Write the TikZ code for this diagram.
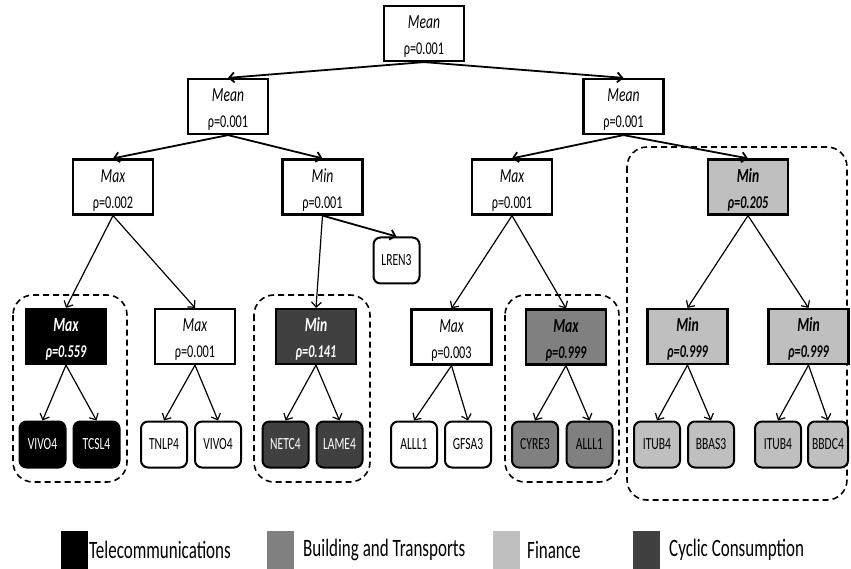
\documentclass[tikz,border=0pt]{standalone}
\usepackage{fontspec}
\setmainfont{Carlito}[FakeStretch=0.68]
\usetikzlibrary{arrows.meta}
\definecolor{bldg}{HTML}{808080}
\definecolor{fin}{HTML}{BFBFBF}
\definecolor{cyc}{HTML}{404040}
\newcommand{\nd}[2]{\rule{0pt}{19pt}{\fontsize{20}{26}\selectfont\itshape #1}\\#2}
\newcommand{\ndb}[2]{\rule{0pt}{19pt}{\fontsize{20}{26}\selectfont\bfseries\itshape #1}\\{\bfseries\itshape #2}}
\tikzset{
  inner/.style={draw, line width=2.2pt, minimum width=80pt, minimum height=55pt, inner sep=0pt, align=center, font=\fontsize{18}{26}\selectfont},
  leaf/.style={draw, line width=2pt, rounded corners=7pt, minimum width=46pt, minimum height=46pt, inner sep=0pt, font=\fontsize{17}{17}\selectfont},
  tip/.style={-{Straight Barb[length=5pt,width=10pt]}},
  thk/.style={tip, line width=1.8pt},
  thn/.style={tip, line width=1.2pt},
  grp/.style={draw, line width=1.6pt, dash pattern=on 6pt off 4pt, rounded corners=20pt},
  lsq/.style={minimum width=27pt, minimum height=38pt, inner sep=0pt},
  ltx/.style={anchor=west, inner sep=0pt, font=\fontsize{25}{25}\selectfont},
}
\begin{document}
\begin{tikzpicture}[x=1pt,y=-1pt]
\useasboundingbox (0,0) rectangle (851,569);
% groups
\draw[grp] (13,295) rectangle (127,482);
\draw[grp] (254,295) rectangle (370,482);
\draw[grp] (505,295) rectangle (619,482);
\draw[grp] (627,147) rectangle (847,500);
% internal nodes
\node[inner] (root) at (424,33.5) {\nd{Mean}{ρ=0.001}};
\node[inner] (m1L) at (228,106.5) {\nd{Mean}{ρ=0.001}};
\node[inner] (m1R) at (623.5,106.5) {\nd{Mean}{ρ=0.001}};
\node[inner] (maxA) at (113,187) {\nd{Max}{ρ=0.002}};
\node[inner] (minA) at (322.5,187) {\nd{Min}{ρ=0.001}};
\node[inner] (maxB) at (512,187) {\nd{Max}{ρ=0.001}};
\node[inner, fill=fin] (minB) at (748,187) {\ndb{Min}{ρ=0.205}};
\node[inner, fill=black, text=white] (maxC) at (66,336.5) {\ndb{Max}{ρ=0.559}};
\node[inner] (maxD) at (195,336.5) {\nd{Max}{ρ=0.001}};
\node[inner, fill=cyc, text=white] (minC) at (316,336.5) {\ndb{Min}{ρ=0.141}};
\node[inner] (maxE) at (451.5,337) {\nd{Max}{ρ=0.003}};
\node[inner, fill=bldg] (maxF) at (566,337) {\ndb{Max}{ρ=0.999}};
\node[inner, fill=fin] (minD) at (687.5,336.5) {\ndb{Min}{ρ=0.999}};
\node[inner, fill=fin] (minE) at (808.5,336.5) {\ndb{Min}{ρ=0.999}};
% leaves
\node[leaf] (lren) at (396.5,260.5) {LREN3};
\node[leaf, fill=black, text=white] (l1) at (42.5,444.5) {VIVO4};
\node[leaf, fill=black, text=white] (l2) at (96.5,444.5) {TCSL4};
\node[leaf] (l3) at (164,444.5) {TNLP4};
\node[leaf] (l4) at (218,444.5) {VIVO4};
\node[leaf, fill=cyc, text=white] (l5) at (285.5,444.5) {NETC4};
\node[leaf, fill=cyc, text=white] (l6) at (339.5,444.5) {LAME4};
\node[leaf] (l7) at (414,444.5) {ALLL1};
\node[leaf] (l8) at (468,444.5) {GFSA3};
\node[leaf, fill=bldg] (l9) at (535,444.5) {CYRE3};
\node[leaf, fill=bldg] (l10) at (589.5,444.5) {ALLL1};
\node[leaf, fill=fin] (l11) at (657,444.5) {ITUB4};
\node[leaf, fill=fin] (l12) at (711,444.5) {BBAS3};
\node[leaf, fill=fin] (l13) at (778,444.5) {ITUB4};
\node[leaf, fill=fin, minimum width=40pt] (l14) at (828,444.5) {BBDC4};
% edges
\draw[thk] (root.south) -- (m1L.north);
\draw[thk] (root.south) -- (m1R.north);
\draw[thk] (m1L.south) -- (maxA.north);
\draw[thk] (m1L.south) -- (minA.north);
\draw[thk] (m1R.south) -- (maxB.north);
\draw[thk] (m1R.south) -- (minB.north);
\draw[thn] (maxA.south) -- (maxC.north);
\draw[thn] (maxA.south) -- (maxD.north);
\draw[thn] (minA.south) -- (minC.north);
\draw[thk] (minA.south) -- (lren.north);
\draw[thn] (maxB.south) -- (maxE.north);
\draw[thn] (maxB.south) -- (maxF.north);
\draw[thn] (minB.south) -- (minD.north);
\draw[thn] (minB.south) -- (minE.north);
\draw[thn] (maxC.south) -- (l1.north);
\draw[thn] (maxC.south) -- (l2.north);
\draw[thn] (maxD.south) -- (l3.north);
\draw[thn] (maxD.south) -- (l4.north);
\draw[thn] (minC.south) -- (l5.north);
\draw[thn] (minC.south) -- (l6.north);
\draw[thn] (maxE.south) -- (l7.north);
\draw[thn] (maxE.south) -- (l8.north);
\draw[thn] (maxF.south) -- (l9.north);
\draw[thn] (maxF.south) -- (l10.north);
\draw[thn] (minD.south) -- (l11.north);
\draw[thn] (minD.south) -- (l12.north);
\draw[thn] (minE.south) -- (l13.north);
\draw[thn] (minE.south) -- (l14.north);
% legend
\node[lsq, fill=black] (s1) at (74.5,550) {};
\node[ltx] (t1) at (89,550) {Telecommunications};
\node[lsq, fill=bldg] (s2) at (280.5,550) {};
\node[ltx] (t2) at (303,550) {Building and Transports};
\node[lsq, fill=fin] (s3) at (506.5,550) {};
\node[ltx] (t3) at (527,550) {Finance};
\node[lsq, fill=cyc] (s4) at (646,550) {};
\node[ltx] (t4) at (669,550) {Cyclic Consumption};
\end{tikzpicture}
\end{document}
